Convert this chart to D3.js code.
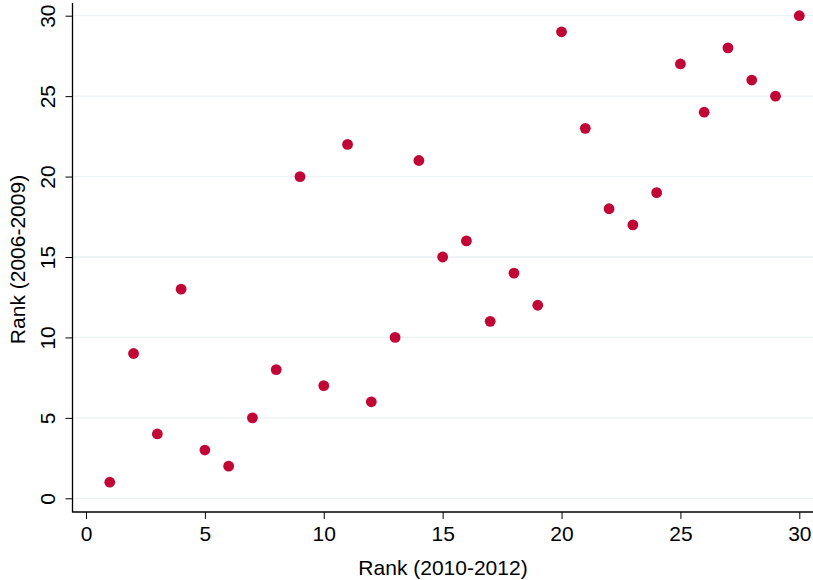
<!DOCTYPE html>
<html>
<head>
<meta charset="utf-8">
<script src="https://cdn.jsdelivr.net/npm/d3@7"></script>
<style>
  body { margin: 0; background: #fff; }
  text { font-family: "Liberation Sans", Arial, Helvetica, sans-serif; fill: #000; }
</style>
</head>
<body>
<svg width="813" height="580"></svg>
<script>
// rank in 2010-2012 vs rank in 2006-2009
var rank1012 = [1,2,3,4,5,6,7,8,9,10,11,12,13,14,15,16,17,18,19,20,21,22,23,24,25,26,27,28,29,30];
var rank0609 = [1,9,4,13,3,2,5,8,20,7,22,6,10,21,15,16,11,14,12,29,23,18,17,19,27,24,28,26,25,30];
var xTicks = [0,5,10,15,20,25,30];
var yTicks = [0,5,10,15,20,25,30];

var data = rank1012.map(function(d, i) { return {x: d, y: rank0609[i]}; });

var svg = d3.select("svg");
var x = d3.scaleLinear().domain([0, 30]).range([86, 799.3]);
var y = d3.scaleLinear().domain([0, 30]).range([498.3, 15.7]);

// gridlines
svg.append("g")
  .selectAll("line")
  .data(yTicks)
  .enter()
  .append("line")
  .attr("x1", 73).attr("x2", 813)
  .attr("y1", function(d) { return y(d); })
  .attr("y2", function(d) { return y(d); })
  .attr("stroke", "#eaf2f3")
  .attr("stroke-width", 1.3);

// x axis
var xa = svg.append("g")
  .attr("transform", "translate(0,512)")
  .call(d3.axisBottom(x).tickValues(xTicks).tickSize(7).tickPadding(0).tickSizeOuter(0));
xa.select(".domain").remove();
xa.append("line").attr("x1", 72.5).attr("x2", 813).attr("stroke", "#000").attr("stroke-width", 1.3);
xa.selectAll(".tick line").attr("stroke", "#000");
xa.selectAll(".tick text").style("font-size", "21px").attr("dy", null).attr("y", 28.6);

// y axis
var ya = svg.append("g")
  .attr("transform", "translate(72.5,0)")
  .call(d3.axisLeft(y).tickValues(yTicks).tickSize(7).tickSizeOuter(0));
ya.select(".domain").remove();
ya.append("line").attr("y1", 3).attr("y2", 512.6).attr("stroke", "#000").attr("stroke-width", 1.3);
ya.selectAll(".tick line").attr("stroke", "#000");
ya.selectAll(".tick text")
  .style("font-size", "21px")
  .attr("text-anchor", "middle")
  .attr("x", null).attr("dy", null)
  .attr("transform", "translate(-17.5,0) rotate(-90)");

// titles
svg.append("text")
  .attr("x", 443).attr("y", 575)
  .attr("text-anchor", "middle")
  .style("font-size", "21px")
  .text("Rank (2010-2012)");

svg.append("text")
  .attr("transform", "translate(25,259.5) rotate(-90)")
  .attr("text-anchor", "middle")
  .style("font-size", "21px")
  .text("Rank (2006-2009)");

// points
svg.append("g")
  .selectAll("circle")
  .data(data)
  .enter()
  .append("circle")
  .attr("cx", function(d) { return x(d.x); })
  .attr("cy", function(d) { return y(d.y); })
  .attr("r", 5.4)
  .attr("fill", "#c10534");
</script>
</body>
</html>
